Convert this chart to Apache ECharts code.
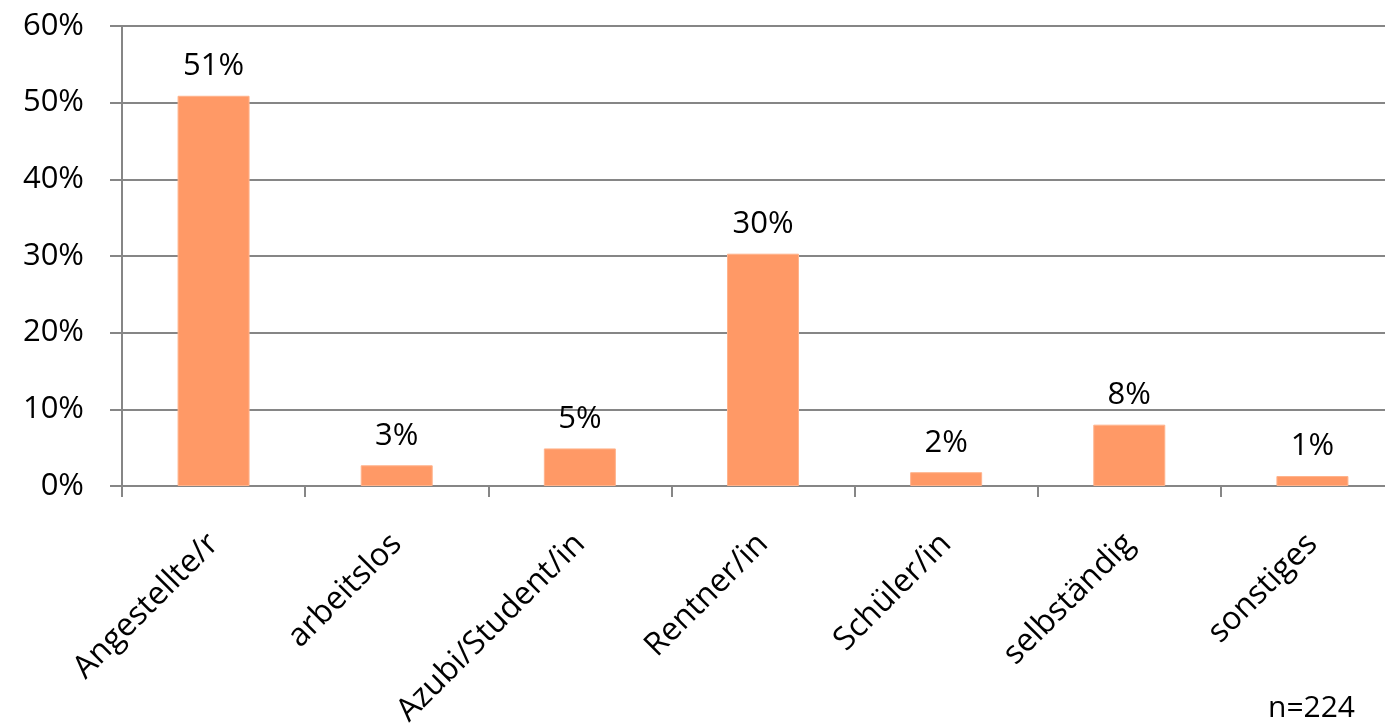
<!DOCTYPE html>
<html><head><meta charset="utf-8">
<script src="https://cdn.jsdelivr.net/npm/echarts@6/dist/echarts.min.js"></script>
<style>html,body{margin:0;padding:0;background:#fff;overflow:hidden}#c{width:1385px;height:723px}</style>
</head><body><div id="c"></div>
<script>
const categories = ['Angestellte/r','arbeitslos','Azubi/Student/in','Rentner/in','Schüler/in','selbständig','sonstiges'];
const values = [50.9, 2.7, 4.9, 30.3, 1.8, 8.0, 1.3];
const valueLabels = ['51%','3%','5%','30%','2%','8%','1%'];
const yTicks = [0, 10, 20, 30, 40, 50, 60];
const note = 'n=224';

const FONT = '"Open Sans", Lato, sans-serif';
const chart = echarts.init(document.getElementById('c'));
chart.setOption({
  animation: false,
  grid: { left: 122, top: 26, width: 1282, height: 460, containLabel: false, outerBoundsMode: 'none' },
  xAxis: {
    type: 'category', data: categories,
    axisLine: { lineStyle: { color: '#868686', width: 2 } },
    axisTick: { show: true, length: 11, lineStyle: { color: '#868686', width: 2 } },
    axisLabel: { rotate: 45, margin: 53, color: '#000', fontSize: 32, fontFamily: FONT, interval: 0 }
  },
  yAxis: {
    type: 'value', min: 0, max: 60, interval: 10,
    axisLine: { show: true, lineStyle: { color: '#868686', width: 2 } },
    axisTick: { show: true, length: 12, lineStyle: { color: '#868686', width: 2 } },
    splitLine: { lineStyle: { color: '#868686', width: 2 } },
    axisLabel: { margin: 38, color: '#000', fontSize: 31, fontFamily: FONT,
      formatter: v => yTicks.includes(v) ? v + '%' : '' }
  },
  series: [{
    type: 'bar', data: values, barWidth: 72,
    itemStyle: { color: '#FF9966', borderColor: '#FFB38C', borderWidth: 1 },
    label: { show: true, position: 'top', distance: 14, color: '#000', fontSize: 31, fontFamily: FONT,
      formatter: p => valueLabels[p.dataIndex] }
  }],
  graphic: [{ type: 'text', right: 30, bottom: 0,
    style: { text: note, fontSize: 30, fontFamily: FONT, fill: '#000' } }]
});
</script></body></html>
